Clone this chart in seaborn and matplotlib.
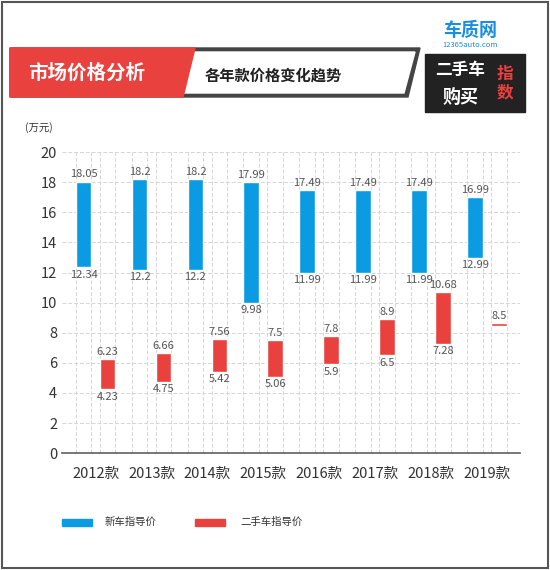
import matplotlib
matplotlib.use("Agg")
import matplotlib.pyplot as plt
import seaborn as sns
import pandas as pd
from matplotlib.patches import Polygon, Rectangle

categories = ["2012款", "2013款", "2014款", "2015款", "2016款", "2017款", "2018款", "2019款"]
new_high = [18.05, 18.2, 18.2, 17.99, 17.49, 17.49, 17.49, 16.99]
new_low = [12.34, 12.2, 12.2, 9.98, 11.99, 11.99, 11.99, 12.99]
used_high = [6.23, 6.66, 7.56, 7.5, 7.8, 8.9, 10.68, 8.62]
used_low = [4.23, 4.75, 5.42, 5.06, 5.9, 6.5, 7.28, 8.45]
used_high_lbl = ["6.23", "6.66", "7.56", "7.5", "7.8", "8.9", "10.68", "8.5"]
used_low_lbl = ["4.23", "4.75", "5.42", "5.06", "5.9", "6.5", "7.28", ""]
series = ["新车指导价", "二手车指导价"]
colors = ["#0a9be3", "#e8413e"]

sns.set_theme(style="white")
plt.rcParams['font.family'] = ['Noto Sans CJK SC', 'DejaVu Sans']

df = pd.DataFrame({
    "cat": categories * 2,
    "series": [series[0]] * 8 + [series[1]] * 8,
    "high": new_high + used_high,
    "low": new_low + used_low,
})

fig = plt.figure(figsize=(5.5, 5.7), dpi=100)
ax = fig.add_axes([0.113, 0.205, 0.833, 0.528])
sns.barplot(data=df, x="cat", y="high", hue="series", palette=colors,
            width=0.86, gap=0.35, legend=False, ax=ax, saturation=1)

for ci, cont in enumerate(ax.containers):
    lows = df[df.series == series[ci]]["low"].tolist()
    highs = df[df.series == series[ci]]["high"].tolist()
    hl = [f"{v:g}" for v in highs] if ci == 0 else used_high_lbl
    ll = [f"{v:g}" for v in lows] if ci == 0 else used_low_lbl
    for p, lo, hi, a, b in zip(cont.patches, lows, highs, hl, ll):
        p.set_y(lo)
        p.set_height(hi - lo)
        p.set_zorder(3)
        cx = p.get_x() + p.get_width() / 2
        ax.text(cx, hi + 0.15, a, ha="center", va="bottom", fontsize=8, color="#555555", zorder=4)
        if b:
            ax.text(cx, lo - 0.15, b, ha="center", va="top", fontsize=8, color="#555555", zorder=4)
        for xe in (p.get_x(), p.get_x() + p.get_width()):
            ax.axvline(xe, color="#d5d5d5", lw=0.7, ls=(0, (4, 2)), zorder=0)

ax.set_ylim(0, 20)
ax.set_xlim(-0.6, 7.6)
ax.set_yticks(range(0, 21, 2))
ax.yaxis.grid(True, color="#d5d5d5", lw=0.7, ls=(0, (4, 2)))
ax.set_axisbelow(True)
for s in ["top", "right", "left"]:
    ax.spines[s].set_visible(False)
ax.spines["bottom"].set_color("#666666")
ax.tick_params(axis="both", length=0, labelsize=10.5, colors="#333333")
ax.tick_params(axis="x", pad=10)
ax.set_xlabel("")
ax.set_ylabel("")
fig.text(0.045, 0.77, "(万元)", fontsize=7.5, color="#333333")

# legend
fig.patches.append(Rectangle((62/550, 1-526/570), 30/550, 7/570, color=colors[0], transform=fig.transFigure))
fig.text(105/550, 1-522/570, series[0], fontsize=7.5, va="center", color="#333333")
fig.patches.append(Rectangle((195/550, 1-526/570), 30/550, 7/570, color=colors[1], transform=fig.transFigure))
fig.text(240/550, 1-522/570, series[1], fontsize=7.5, va="center", color="#333333")

# frame
fig.patches.append(Rectangle((0.003, 0.003), 0.994, 0.994, fill=False, ec="#555555", lw=1.5, transform=fig.transFigure))

# header
def fp(pts):
    return [(x/550, 1-y/570) for x, y in pts]
fig.patches.append(Polygon(fp([(10, 48), (420, 48), (408, 97), (10, 97)]), closed=True, color="#444444", transform=fig.transFigure))
fig.patches.append(Polygon(fp([(16, 52), (415, 52), (404, 93), (16, 93)]), closed=True, color="white", transform=fig.transFigure))
fig.patches.append(Polygon(fp([(10, 48), (195, 48), (183, 97), (10, 97)]), closed=True, color="#e8413e", transform=fig.transFigure))
fig.text(28/550, 1-73/570, "市场价格分析", fontsize=14, fontweight="bold", color="white", va="center")
fig.text(205/550, 1-76/570, "各年款价格变化趋势", fontsize=11, fontweight="bold", color="#222222", va="center")

# logo
fig.text(470/550, 1-30/570, "车质网", fontsize=13, fontweight="bold", color="#1a8fe0", ha="center", va="center", style="italic")
fig.text(470/550, 1-45/570, "12365auto.com", fontsize=5.5, color="#1a8fe0", ha="center", va="center")
fig.patches.append(Rectangle((425/550, 1-112/570), 100/550, 58/570, color="#222222", transform=fig.transFigure))
fig.text(460/550, 1-70/570, "二手车", fontsize=12, fontweight="bold", color="white", ha="center", va="center")
fig.text(460/550, 1-97/570, "购买", fontsize=13, fontweight="bold", color="white", ha="center", va="center")
fig.text(505/550, 1-83/570, "指\n数", fontsize=12, fontweight="bold", color="#e8413e", ha="center", va="center", linespacing=1.0)

fig.savefig("out.png", dpi=100)
